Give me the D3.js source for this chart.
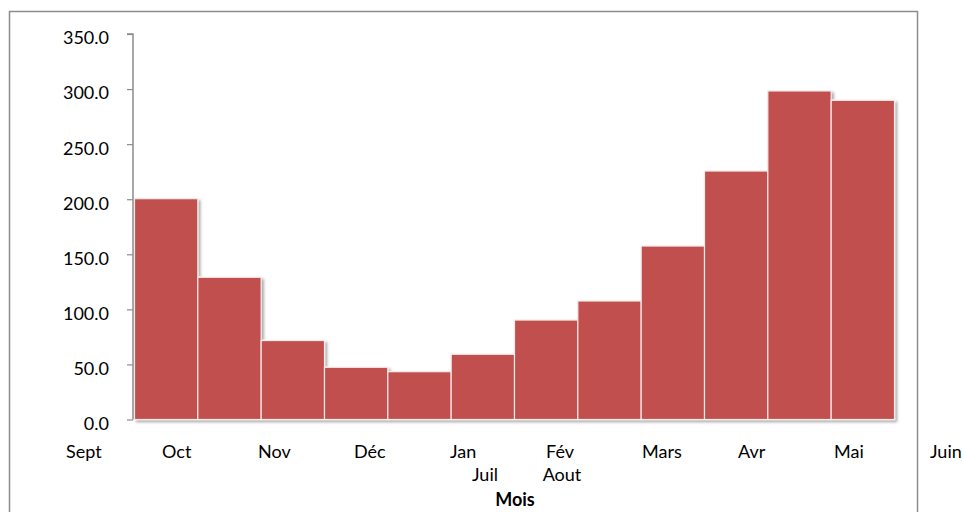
<!DOCTYPE html>
<html>
<head>
<meta charset="utf-8">
<script src="https://cdn.jsdelivr.net/npm/d3@7"></script>
<style>
  html, body { margin: 0; padding: 0; background: #fff; }
  svg { display: block; font-family: Lato, "Open Sans", sans-serif; }
</style>
</head>
<body>
<svg id="chart" width="964" height="512"></svg>
<script>
// ---- data ----
const months = ["Sept","Oct","Nov","Déc","Jan","Fév","Mars","Avr","Mai","Juin","Juil","Aout"];
const values = [200.5, 129.1, 71.7, 47.4, 43.4, 59.2, 90.3, 107.6, 157.5, 225.6, 298.3, 289.8];
const yTicks = [0, 50, 100, 150, 200, 250, 300, 350];
const labelsRow1 = ["Sept","Oct","Nov","Déc","Jan","Fév","Mars","Avr","Mai","Juin"];
const labelsRow2 = ["Juil","Aout"];
const xTitle = "Mois";

// ---- layout ----
const svg = d3.select("#chart");
const x = d3.scaleBand().domain(months).range([134.5, 894.5]).padding(0);
const y = d3.scaleLinear().domain([0, 350]).range([419.5, 34]);

const defs = svg.append("defs");
const f = defs.append("filter").attr("id", "shadow").attr("x", "-20%").attr("y", "-20%").attr("width", "140%").attr("height", "140%");
f.append("feDropShadow").attr("dx", 2).attr("dy", 2).attr("stdDeviation", 1.6)
  .attr("flood-color", "#000").attr("flood-opacity", 0.35);

// frame
svg.append("rect").attr("x", 9.5).attr("y", 11.5).attr("width", 908).attr("height", 520)
  .attr("fill", "none").attr("stroke", "#8c8c8c").attr("stroke-width", 1.5);

// bars
svg.append("g").attr("filter", "url(#shadow)")
  .selectAll("rect").data(values).join("rect")
  .attr("x", (d, i) => x(months[i]))
  .attr("y", d => y(d))
  .attr("width", x.bandwidth())
  .attr("height", d => y(0) - y(d))
  .attr("fill", "#C0504D")
  .attr("stroke", "#f4eaea")
  .attr("stroke-width", 1.2);

// x axis line
svg.append("line").attr("x1", 127).attr("x2", 895).attr("y1", y(0)).attr("y2", y(0))
  .attr("stroke", "#8c8c8c").attr("stroke-width", 1.2).attr("filter", "url(#shadow)");

// y axis
const yAxis = d3.axisLeft(y).tickValues(yTicks).tickFormat(d3.format(".1f")).tickSize(6).tickPadding(18);
const gy = svg.append("g").attr("transform", "translate(133,0)").call(yAxis);
gy.select(".domain").attr("stroke", "#8c8c8c").attr("stroke-width", 1.5).attr("d", "M-6,34H0V419.5");
gy.selectAll(".tick line").attr("stroke", "#8c8c8c").attr("stroke-width", 1.2);
gy.selectAll(".tick text").attr("fill", "#000").attr("dy", "0.55em")
  .style("font-size", "18px").style("font-family", "Lato, sans-serif");

// x labels
const xl1 = d3.scalePoint().domain(labelsRow1).range([66, 930]);
svg.append("g").selectAll("text").data(labelsRow1).join("text")
  .attr("x", d => xl1(d)).attr("y", 458)
  .attr("text-anchor", "start").style("font-size", "18px").attr("fill", "#000").text(d => d);

const xl2 = d3.scalePoint().domain(labelsRow2).range([485, 562]);
svg.append("g").selectAll("text").data(labelsRow2).join("text")
  .attr("x", d => xl2(d)).attr("y", 481)
  .attr("text-anchor", "middle").style("font-size", "18px").attr("fill", "#000").text(d => d);

svg.append("text").attr("x", 515).attr("y", 506).attr("text-anchor", "middle")
  .style("font-size", "18px").style("font-weight", "bold").attr("fill", "#000").text(xTitle);
</script>
</body>
</html>
